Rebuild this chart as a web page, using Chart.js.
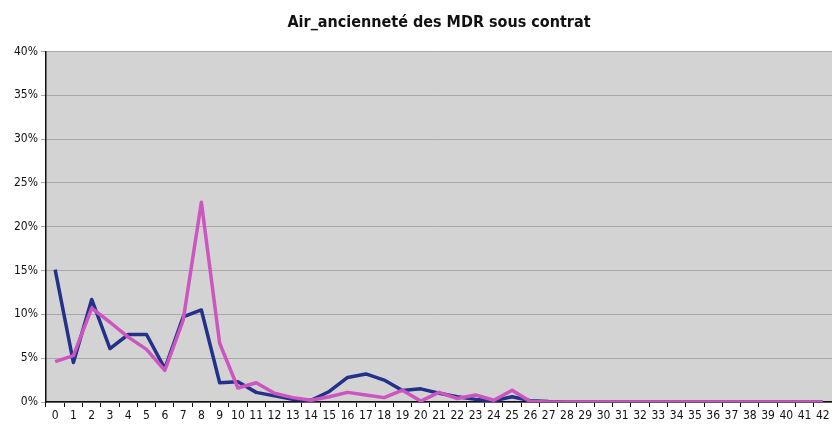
<!DOCTYPE html>
<html>
<head>
<meta charset="utf-8">
<script src="https://cdn.jsdelivr.net/npm/chart.js@4.4.0/dist/chart.umd.min.js"></script>
<style>
  html, body { margin: 0; padding: 0; background: #fff; }
  #wrap { width: 832px; height: 432px; }
</style>
</head>
<body>
<div id="wrap"><canvas id="chart" width="832" height="432"></canvas></div>
<script>
// categories: seniority in years
const years = ['0','1','2','3','4','5','6','7','8','9','10','11','12','13','14','15','16','17','18','19','20',
  '21','22','23','24','25','26','27','28','29','30','31','32','33','34','35','36','37','38','39','40','41','42'];

// dark blue series (%)
const blueSeries = [15.1, 4.5, 11.7, 6.1, 7.7, 7.7, 3.8, 9.7, 10.5, 2.2, 2.3, 1.1, 0.7, 0.3, 0.2, 1.2, 2.8, 3.2, 2.5, 1.3, 1.5,
  1.0, 0.6, 0.3, 0.15, 0.6, 0.15, 0.05, 0, 0, 0, 0, 0, 0, 0, 0, 0, 0, 0, 0, 0, 0, 0];

// pink series (%)
const pinkSeries = [4.6, 5.3, 10.7, 9.1, 7.4, 6.0, 3.6, 9.3, 22.8, 6.7, 1.6, 2.2, 1.0, 0.5, 0.2, 0.6, 1.1, 0.8, 0.5, 1.35, 0.1,
  1.1, 0.4, 0.8, 0.2, 1.35, 0.05, 0, 0, 0, 0, 0, 0, 0, 0, 0, 0, 0, 0, 0, 0, 0, 0];

const yTicks = [0, 5, 10, 15, 20, 25, 30, 35, 40];

const TITLE = 'Air_ancienneté des MDR sous contrat';
const FONT = "'DejaVu Sans Condensed', 'Liberation Sans Narrow', 'Arial Narrow', 'Liberation Sans', sans-serif";

// grey plot background + title centred over the plot area (like Excel)
const plotBg = {
  id: 'plotBg',
  beforeDraw(chart) {
    const { ctx, chartArea: a } = chart;
    ctx.save();
    ctx.fillStyle = '#d3d3d3';
    ctx.fillRect(a.left, a.top, a.right - a.left, a.bottom - a.top);
    ctx.restore();
  },
  afterDraw(chart) {
    const { ctx, chartArea: a } = chart;
    ctx.save();
    ctx.fillStyle = '#111';
    ctx.font = 'bold 16px ' + FONT;
    ctx.textAlign = 'center';
    ctx.textBaseline = 'middle';
    ctx.fillText(TITLE, (a.left + a.right) / 2, 23);
    ctx.restore();
  }
};

new Chart(document.getElementById('chart'), {
  type: 'line',
  data: {
    labels: years,
    datasets: [
      {
        label: 'Série 1',
        data: blueSeries,
        borderColor: '#24318a',
        borderWidth: 3.5,
        borderJoinStyle: 'round',
        pointRadius: 0,
        tension: 0,
        order: 1
      },
      {
        label: 'Série 2',
        data: pinkSeries,
        borderColor: '#cc55c0',
        borderWidth: 3.5,
        borderJoinStyle: 'round',
        pointRadius: 0,
        tension: 0,
        order: 0
      }
    ]
  },
  options: {
    responsive: false,
    animation: false,
    layout: { padding: { left: 0, right: 0, top: 0, bottom: 0 } },
    plugins: {
      legend: { display: false },
      tooltip: { enabled: false },
      // kept only to reserve the space above the plot; real text drawn by plotBg
      title: {
        display: true,
        text: TITLE,
        color: 'rgba(0,0,0,0)',
        font: { family: FONT, size: 17, weight: 'bold' },
        padding: { top: 12, bottom: 19 }
      }
    },
    scales: {
      x: {
        offset: true,
        afterFit(scale) { scale.height = 30; },
        grid: { drawOnChartArea: false, tickLength: 5, color: '#111', offset: true },
        border: { color: '#111', width: 1.5 },
        ticks: {
          color: '#111',
          maxRotation: 0,
          autoSkip: false,
          padding: 2,
          font: { family: FONT, size: 12 }
        }
      },
      y: {
        min: 0,
        max: 40,
        afterFit(scale) { scale.width = 46; },
        afterBuildTicks(scale) { scale.ticks = yTicks.map(v => ({ value: v })); },
        grid: { color: '#a9a9a9', tickLength: 5, lineWidth: 1 },
        border: { color: '#111', width: 1.5 },
        ticks: {
          color: '#111',
          padding: 3,
          font: { family: FONT, size: 12 },
          callback: v => v + '%'
        }
      }
    }
  },
  plugins: [plotBg]
});
</script>
</body>
</html>
